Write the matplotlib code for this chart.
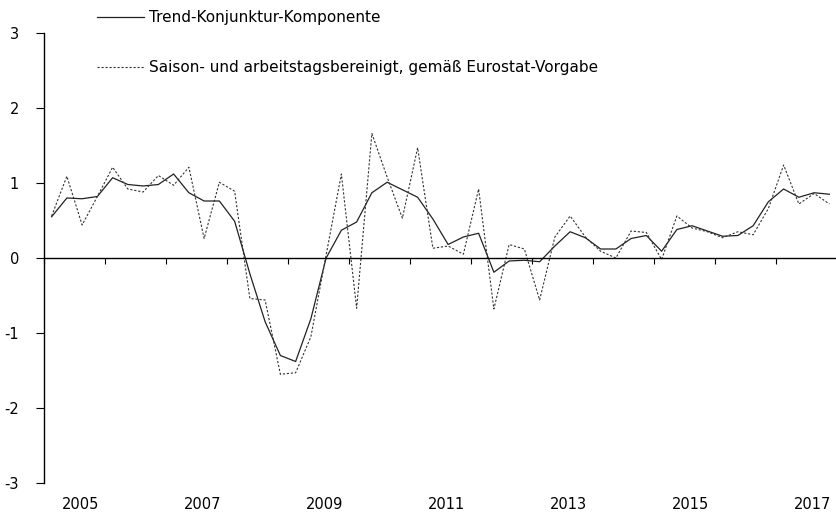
import matplotlib
matplotlib.use('Agg')
import matplotlib.pyplot as plt
import numpy as np

# Quartale 2005Q1 bis 2017Q4
years = list(range(2005, 2018))
year_labels = [str(y) for y in years if y % 2 == 1]

trend = [0.55, 0.80, 0.79, 0.82,
         1.07, 0.98, 0.96, 0.98,
         1.12, 0.87, 0.76, 0.76,
         0.49, -0.21, -0.85, -1.30,
         -1.38, -0.81, 0.00, 0.37,
         0.48, 0.87, 1.01, 0.91,
         0.81, 0.52, 0.18, 0.28,
         0.33, -0.19, -0.04, -0.03,
         -0.05, 0.16, 0.35, 0.27,
         0.12, 0.12, 0.26, 0.30,
         0.09, 0.38, 0.43, 0.36,
         0.29, 0.30, 0.43, 0.75,
         0.92, 0.81, 0.87, 0.85]

bereinigt = [0.56, 1.09, 0.44, 0.82,
             1.21, 0.92, 0.88, 1.10,
             0.97, 1.21, 0.26, 1.01,
             0.89, -0.54, -0.56, -1.55,
             -1.53, -1.05, 0.04, 1.12,
             -0.67, 1.66, 1.08, 0.53,
             1.47, 0.13, 0.16, 0.05,
             0.92, -0.68, 0.18, 0.12,
             -0.56, 0.28, 0.56, 0.28,
             0.09, 0.00, 0.36, 0.34,
             -0.02, 0.56, 0.40, 0.35,
             0.27, 0.35, 0.31, 0.66,
             1.24, 0.72, 0.86, 0.72]

labels = ['Trend-Konjunktur-Komponente',
          'Saison- und arbeitstagsbereinigt, gemäß Eurostat-Vorgabe']

plt.rcParams['font.family'] = ['DejaVu Sans']

# x-Position: Quartalsmitte
x = 2005 + (np.arange(len(trend)) + 0.5) / 4

fig = plt.figure(figsize=(8.37, 5.17), dpi=100)
ax = fig.add_axes([44 / 837, 34 / 517, 793 / 837, 450 / 517])

l1, = ax.plot(x, trend, color='#222222', lw=0.9)
l2, = ax.plot(x, bereinigt, color='#333333', lw=0.8, linestyle=(0, (2, 1.6)))

ax.set_xlim(2005, 2018)
ax.set_ylim(-3, 3)
ax.set_yticks(range(-3, 4))
ax.set_yticklabels([str(v) for v in range(-3, 4)], fontsize=10.5)

for s in ['top', 'right']:
    ax.spines[s].set_visible(False)
ax.spines['bottom'].set_position(('data', 0))
ax.spines['bottom'].set_linewidth(1.0)
ax.spines['left'].set_linewidth(1.0)

ax.set_xticks(years + [2018])
ax.tick_params(axis='x', direction='out', length=4, width=0.8, labelbottom=False)
ax.tick_params(axis='y', direction='out', length=6, width=0.8, pad=12)

# Jahreszahlen unten
for lab in year_labels:
    ax.text(int(lab) + 0.6, -0.048, lab, transform=ax.get_xaxis_transform(),
            ha='center', va='center', fontsize=10.5)

fig.legend([l1, l2], labels, loc='upper left', bbox_to_anchor=(97 / 837, 1 - 10 / 517),
           frameon=False, fontsize=11, handlelength=3.1, handletextpad=0.3,
           labelspacing=2.3, borderaxespad=0, borderpad=0)

fig.savefig('out.png', dpi=100)
